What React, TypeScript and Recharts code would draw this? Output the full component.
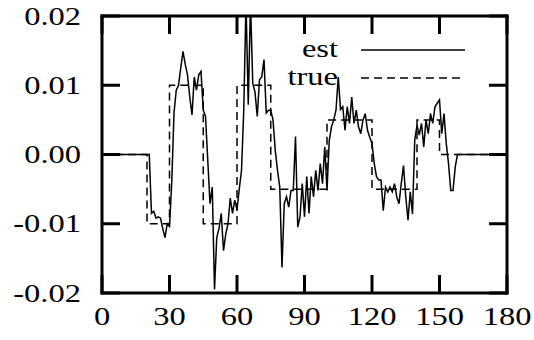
import React from 'react';
import { LineChart, Line, XAxis, YAxis } from 'recharts';

// x positions of the est series start at 21; zero before and after
const estStartX = 21;
const estValues = [
  0, -0.0085, -0.0082, -0.0092, -0.009, -0.0092, -0.0107, -0.012, -0.01, -0.0104,
  -0.004, 0.006, 0.0093, 0.01, 0.0125, 0.0149, 0.013, 0.0115, 0.0083, 0.0057,
  0.0112, 0.0093, 0.0115, 0.012, 0.0064, 0.0055, -0.0008, -0.0071, -0.0047, -0.0195,
  -0.012, -0.0107, -0.0085, -0.0139, -0.0115, -0.01, -0.0063, -0.0085, -0.0066, -0.008,
  -0.005, -0.0023, 0.0064, 0.022, 0.0072, 0.022, 0.0103, 0.009, 0.0055, 0.0108,
  0.0112, 0.0137, 0.006, 0.0064, 0.0064, 0.005, 0.0006, -0.0023, -0.0047, -0.0163,
  -0.0071, -0.0061, -0.0076, -0.0052, -0.0052, 0.0026, -0.0105, -0.009, -0.0042, -0.009,
  -0.0032, -0.0085, -0.0032, -0.0061, -0.0023, -0.0052, -0.0013, -0.0042, 0.0011, -0.0052,
  0.002, 0.004, 0.005, 0.0064, 0.0112, 0.0065, 0.0069, 0.0035, 0.0069, 0.0045,
  0.0083, 0.0045, 0.0064, 0.004, 0.003, 0.005, 0.0059, 0.0035, 0.0025, 0.0016,
  -0.0013, -0.0032, -0.0037, -0.0037, -0.0081, -0.0047, -0.0054, -0.0047, -0.0054, -0.0042,
  -0.0061, -0.0071, -0.0042, -0.0016, -0.0061, -0.0095, -0.0054, -0.0086, 0.0021, 0.0042,
  0.0028, 0.0045, 0.0011, 0.005, 0.003, 0.0059, 0.0045, 0.0069, 0.0074, 0.0079,
  0.003, 0.0059, 0.0016, -0.0013, -0.0052, -0.0052, -0.0018, 0,
];

// step function of the true signal (value holds until next x)
const trueX = [0, 20, 30, 45, 60, 75, 100, 120, 140, 150, 180];
const trueY = [0, -0.01, 0.01, -0.01, 0.01, -0.005, 0.005, -0.005, 0.005, 0, 0];

const xTicks = [0, 30, 60, 90, 120, 150, 180];
const yTicks = [-0.02, -0.01, 0, 0.01, 0.02];
const seriesNames = ['est', 'true'];

const xMin = 0;
const xMax = 180;
const yMin = -0.02;
const yMax = 0.02;

const estData: { x: number; y: number }[] = [];
for (let x = xMin; x <= xMax; x++) {
  const i = x - estStartX;
  estData.push({ x, y: i >= 0 && i < estValues.length ? estValues[i] : 0 });
}
const trueData = trueX.map((x, i) => ({ x, y: trueY[i] }));

// chart geometry
const W = 534;
const H = 340;
const M = { top: 16, right: 27, bottom: 47, left: 102 };
const PL = M.left;
const PR = W - M.right;
const PT = M.top;
const PB = H - M.bottom;
const TICK_PX = 18;
const LW = 3;
const px = (v: number) => PL + ((v - xMin) / (xMax - xMin)) * (PR - PL);
const py = (v: number) => PT + ((yMax - v) / (yMax - yMin)) * (PB - PT);

const FONT = '"Liberation Serif", "Times New Roman", serif';
const FS = 25;
const STRETCH = 1.3;
const charW = (c: string) =>
  c === '.' ? 0.25 : c === '-' ? 0.333 : c === 'e' ? 0.444 : c === 's' ? 0.389 : c === 't' ? 0.278 : c === 'r' ? 0.333 : 0.5;
const textW = (s: string) => s.split('').reduce((a, c) => a + charW(c), 0) * FS * STRETCH;

const YTick = (props: any) => {
  const { x, y, payload } = props;
  const label = Number(payload.value).toFixed(2);
  return (
    <text x={x} y={y} dy="0.34em" textAnchor="end" fontFamily={FONT} fontSize={FS} fill="#000"
      textLength={textW(label)} lengthAdjust="spacingAndGlyphs">{label}</text>
  );
};
const XTick = (props: any) => {
  const { x, y, payload } = props;
  const label = String(payload.value);
  return (
    <text x={x} y={y} textAnchor="middle" fontFamily={FONT} fontSize={FS} fill="#000"
      textLength={textW(label)} lengthAdjust="spacingAndGlyphs">{label}</text>
  );
};

// frame and inward tick marks as filled bars (axis decoration, not data)
const h = LW / 2;
const bars: { k: string; x: number; y: number; w: number; hh: number }[] = [
  { k: 'top', x: PL - h, y: PT - h, w: PR - PL + LW, hh: LW },
  { k: 'bottom', x: PL - h, y: PB - h, w: PR - PL + LW, hh: LW },
  { k: 'left', x: PL - h, y: PT - h, w: LW, hh: PB - PT + LW },
  { k: 'right', x: PR - h, y: PT - h, w: LW, hh: PB - PT + LW },
  ...xTicks.map((t) => ({ k: 'xb' + t, x: px(t) - h, y: PB - TICK_PX, w: LW, hh: TICK_PX })),
  ...xTicks.map((t) => ({ k: 'xt' + t, x: px(t) - h, y: PT, w: LW, hh: TICK_PX })),
  ...yTicks.map((t) => ({ k: 'yl' + t, x: PL, y: py(t) - h, w: TICK_PX, hh: LW })),
  ...yTicks.map((t) => ({ k: 'yr' + t, x: PR - TICK_PX, y: py(t) - h, w: TICK_PX, hh: LW })),
];

export default function App() {
  return (
    <div style={{ position: 'absolute', left: 0, top: 0, width: W, height: H, background: '#fff' }}>
      <LineChart width={W} height={H} data={estData} margin={{ top: M.top, right: M.right, bottom: 0, left: 0 }}>
        <XAxis xAxisId="b" dataKey="x" type="number" domain={[xMin, xMax]} ticks={xTicks} orientation="bottom"
          height={M.bottom} axisLine={false} tickLine={false} tickSize={0} tickMargin={32} tick={<XTick />} interval={0} />
        <YAxis yAxisId="l" type="number" domain={[yMin, yMax]} ticks={yTicks} orientation="left" width={M.left}
          allowDataOverflow axisLine={false} tickLine={false} tickSize={0} tickMargin={21} tick={<YTick />} interval={0} />
        <Line xAxisId="b" yAxisId="l" data={trueData} dataKey="y" type="stepAfter" stroke="#000" strokeWidth={1.5}
          strokeDasharray="8 5" dot={false} isAnimationActive={false} name={seriesNames[1]} />
        <Line xAxisId="b" yAxisId="l" data={estData} dataKey="y" type="linear" stroke="#000" strokeWidth={1.5}
          dot={false} isAnimationActive={false} name={seriesNames[0]} />
      </LineChart>
      <svg width={W} height={H} style={{ position: 'absolute', left: 0, top: 0, pointerEvents: 'none' }}>
        {bars.map((b) => (
          <rect key={b.k} x={b.x} y={b.y} width={b.w} height={b.hh} fill="#000" />
        ))}
        <text x={338} y={57} textAnchor="end" fontFamily={FONT} fontSize={FS} fill="#000"
          textLength={textW(seriesNames[0])} lengthAdjust="spacingAndGlyphs">{seriesNames[0]}</text>
        <line x1={361} x2={465} y1={50} y2={50} stroke="#000" strokeWidth={1.5} />
        <text x={338} y={85} textAnchor="end" fontFamily={FONT} fontSize={FS} fill="#000"
          textLength={textW(seriesNames[1])} lengthAdjust="spacingAndGlyphs">{seriesNames[1]}</text>
        <line x1={361} x2={465} y1={78} y2={78} stroke="#000" strokeWidth={1.5} strokeDasharray="8 5" />
      </svg>
    </div>
  );
}
